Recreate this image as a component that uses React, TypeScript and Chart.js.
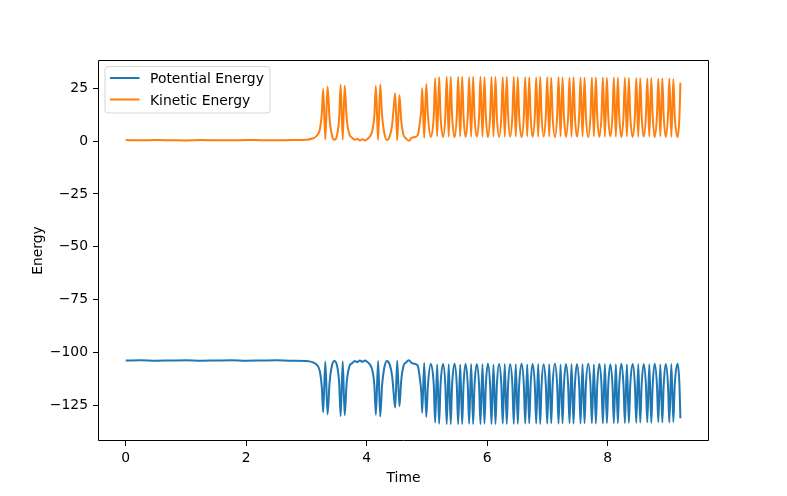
import { useEffect, useRef } from "react";
import { Chart, registerables } from "chart.js";

Chart.register(...registerables);

const FONT = "'DejaVu Sans', sans-serif";

const seriesLabels = ["Potential Energy", "Kinetic Energy"];
const seriesColors = ["#1f77b4", "#ff7f0e"];
const axisTitles = ["Time", "Energy"];

// Time samples
const timeValues = [
  0, 0.25, 0.5, 0.75, 1.0, 1.25, 1.5, 1.75, 2.0, 2.25, 2.5, 2.75,
  2.997, 3.096, 3.171, 3.221, 3.254, 3.276, 3.312, 3.349, 3.382, 3.42,
  3.462, 3.508, 3.542, 3.566, 3.601, 3.633, 3.666, 3.711, 3.761, 3.802,
  3.844, 3.885, 3.927, 3.968, 4.01, 4.051, 4.093, 4.126, 4.151, 4.188,
  4.223, 4.254, 4.289, 4.334, 4.384, 4.422, 4.447, 4.472, 4.505, 4.542,
  4.571, 4.608, 4.653, 4.699, 4.749, 4.799, 4.846, 4.882, 4.904, 4.92,
  4.953, 4.987, 5.015, 5.062,
  5.112, 5.135, 5.168, 5.201, 5.224, 5.267,
  5.304, 5.327, 5.36, 5.393, 5.416, 5.457,
  5.494, 5.517, 5.55, 5.583, 5.606, 5.639,
  5.676, 5.699, 5.732, 5.765, 5.788, 5.827,
  5.864, 5.887, 5.92, 5.953, 5.976, 6.01,
  6.047, 6.07, 6.103, 6.136, 6.159, 6.197,
  6.234, 6.257, 6.29, 6.323, 6.346, 6.38,
  6.417, 6.44, 6.473, 6.506, 6.529, 6.57,
  6.607, 6.63, 6.663, 6.696, 6.719, 6.752,
  6.789, 6.812, 6.845, 6.878, 6.901, 6.935,
  6.972, 6.995, 7.028, 7.061, 7.084, 7.123,
  7.16, 7.183, 7.216, 7.249, 7.272, 7.305,
  7.342, 7.365, 7.398, 7.431, 7.454, 7.488,
  7.525, 7.548, 7.581, 7.614, 7.637, 7.676,
  7.713, 7.736, 7.769, 7.802, 7.825, 7.859,
  7.896, 7.919, 7.952, 7.985, 8.008, 8.041,
  8.078, 8.101, 8.134, 8.167, 8.19, 8.224,
  8.261, 8.284, 8.317, 8.35, 8.373, 8.413,
  8.45, 8.473, 8.506, 8.539, 8.562, 8.596,
  8.633, 8.656, 8.689, 8.722, 8.745, 8.779,
  8.816, 8.839, 8.872, 8.905, 8.928, 8.962,
  8.999, 9.022, 9.055, 9.088, 9.111, 9.16,
  9.19, 9.205,
];

const potentialValues = [
  -103.8, -103.7, -103.9, -103.8, -103.7, -103.9, -103.8, -103.7, -103.9, -103.8, -103.7, -103.9,
  -104.0, -104.6, -105.9, -108.9, -116.5, -128.3, -104.3, -129.3, -114.5, -106.5,
  -104.1, -106.5, -114.5, -130.1, -104.2, -129.7, -114.5, -106.7, -105.0, -104.1,
  -104.6, -103.8, -104.4, -103.8, -104.5, -105.7, -108.5, -115.5, -129.5, -104.0,
  -130.3, -115.5, -107.5, -104.0, -106.0, -111.5, -119.5, -126.1, -103.9, -125.5,
  -113.5, -106.5, -104.7, -103.7, -105.1, -105.4, -106.3, -112.5, -118.5, -128.5,
  -105.0, -130.5, -115.5, -105.5,
  -115.5, -133.2, -105.7, -133.7, -115.5, -105.5,
  -115.5, -133.9, -105.6, -133.9, -115.5, -105.4,
  -115.5, -133.8, -105.7, -133.9, -115.5, -105.5,
  -115.5, -133.7, -105.5, -133.9, -115.5, -105.6,
  -115.5, -133.9, -105.6, -133.7, -115.5, -105.4,
  -115.5, -133.8, -105.7, -133.8, -115.5, -105.5,
  -115.5, -133.7, -105.5, -133.8, -115.5, -105.6,
  -115.5, -133.8, -105.6, -133.7, -115.5, -105.4,
  -115.5, -133.7, -105.7, -133.6, -115.5, -105.5,
  -115.5, -133.6, -105.5, -133.8, -115.5, -105.7,
  -115.5, -133.7, -105.6, -133.5, -115.5, -105.4,
  -115.5, -133.7, -105.7, -133.6, -115.5, -105.5,
  -115.5, -133.5, -105.5, -133.7, -115.5, -105.6,
  -115.5, -133.6, -105.6, -133.5, -115.5, -105.4,
  -115.5, -133.5, -105.7, -133.6, -115.5, -105.5,
  -115.5, -133.6, -105.5, -133.4, -115.5, -105.7,
  -115.5, -133.5, -105.6, -133.4, -115.5, -105.4,
  -115.5, -133.4, -105.7, -133.3, -115.5, -105.5,
  -115.5, -133.3, -105.5, -133.2, -115.5, -105.6,
  -115.5, -133.1, -105.6, -133.3, -115.5, -105.4,
  -115.5, -133.0, -105.7, -133.1, -115.5, -105.5,
  -115.5, -133.1, -105.5, -132.9, -115.5, -105.4,
  -115.5, -131.1,
];

const kineticValues = [
  0.45, 0.35, 0.5, 0.4, 0.3, 0.45, 0.4, 0.35, 0.5, 0.4, 0.35, 0.45,
  0.6, 1.2, 2.5, 5.5, 13, 24.8, 0.8, 25.8, 11, 3,
  0.6, 3, 11, 26.6, 0.7, 26.2, 11, 3.2, 1.5, 0.6,
  1.1, 0.3, 0.9, 0.3, 1.0, 2.2, 5.0, 12, 26, 0.5,
  26.8, 12, 4, 0.5, 2.5, 8, 16, 22.6, 0.4, 21.8,
  10, 3, 1.2, 0.2, 1.6, 1.9, 2.8, 9, 15, 25,
  1.5, 27, 12, 2.0,
  12, 29.7, 2.2, 30.2, 12, 2.0,
  12, 30.4, 2.1, 30.4, 12, 1.9,
  12, 30.3, 2.2, 30.4, 12, 2.0,
  12, 30.2, 2.0, 30.4, 12, 2.1,
  12, 30.4, 2.1, 30.2, 12, 1.9,
  12, 30.3, 2.2, 30.3, 12, 2.0,
  12, 30.2, 2.0, 30.3, 12, 2.1,
  12, 30.3, 2.1, 30.2, 12, 1.9,
  12, 30.2, 2.2, 30.1, 12, 2.0,
  12, 30.1, 2.0, 30.3, 12, 2.2,
  12, 30.2, 2.1, 30.0, 12, 1.9,
  12, 30.2, 2.2, 30.1, 12, 2.0,
  12, 30.0, 2.0, 30.2, 12, 2.1,
  12, 30.1, 2.1, 30.0, 12, 1.9,
  12, 30.0, 2.2, 30.1, 12, 2.0,
  12, 30.1, 2.0, 29.9, 12, 2.2,
  12, 30.0, 2.1, 29.9, 12, 1.9,
  12, 29.9, 2.2, 29.8, 12, 2.0,
  12, 29.8, 2.0, 29.7, 12, 2.1,
  12, 29.6, 2.1, 29.8, 12, 1.9,
  12, 29.5, 2.2, 29.6, 12, 2.0,
  12, 29.6, 2.0, 29.4, 12, 1.9,
  12, 27.6,
];

const fmtMinus = (v: number) => (v < 0 ? "\u2212" + Math.abs(v) : String(v));

const framePlugin = {
  id: "mplFrame",
  afterDraw(chart: any) {
    const { ctx, chartArea: a } = chart;
    ctx.save();
    // axes frame (all four spines)
    const L = Math.round(a.left) + 0.5;
    const R = Math.round(a.right) - 0.5;
    const T = Math.round(a.top) + 0.5;
    const B = Math.round(a.bottom) - 0.5;
    ctx.strokeStyle = "#000";
    ctx.lineWidth = 1;
    ctx.beginPath();
    ctx.moveTo(L, T);
    ctx.lineTo(R, T);
    ctx.lineTo(R, B);
    ctx.lineTo(L, B);
    ctx.closePath();
    ctx.stroke();

    // legend (upper left, matplotlib style)
    const x0 = a.left + 7;
    const y0 = a.top + 6.5;
    const w = 165;
    const h = 46.5;
    ctx.beginPath();
    if ((ctx as any).roundRect) (ctx as any).roundRect(x0, y0, w, h, 3);
    else ctx.rect(x0, y0, w, h);
    ctx.fillStyle = "rgba(255,255,255,0.8)";
    ctx.fill();
    ctx.strokeStyle = "rgba(204,204,204,0.8)";
    ctx.lineWidth = 1;
    ctx.stroke();

    ctx.font = `13.9px ${FONT}`;
    ctx.textBaseline = "alphabetic";
    ctx.textAlign = "left";
    chart.data.datasets.forEach((ds: any, i: number) => {
      const yy = a.top + 18 + i * 21.5;
      ctx.strokeStyle = ds.borderColor;
      ctx.lineWidth = 2;
      ctx.beginPath();
      ctx.moveTo(a.left + 12, yy);
      ctx.lineTo(a.left + 41.5, yy);
      ctx.stroke();
      ctx.fillStyle = "#000";
      ctx.fillText(ds.label, a.left + 52, yy + 5);
    });
    ctx.restore();
  },
};

export default function App() {
  const ref = useRef<HTMLCanvasElement | null>(null);

  useEffect(() => {
    if (!ref.current) return;
    const mk = (vals: number[]) => timeValues.map((t, i) => ({ x: t, y: vals[i] }));
    const tickFont = { family: FONT, size: 13.9 };
    const chart = new Chart(ref.current, {
      type: "line",
      data: {
        datasets: [
          {
            label: seriesLabels[0],
            data: mk(potentialValues),
            borderColor: seriesColors[0],
            backgroundColor: seriesColors[0],
            borderWidth: 2,
            pointRadius: 0,
            cubicInterpolationMode: "monotone",
          },
          {
            label: seriesLabels[1],
            data: mk(kineticValues),
            borderColor: seriesColors[1],
            backgroundColor: seriesColors[1],
            borderWidth: 2,
            pointRadius: 0,
            cubicInterpolationMode: "monotone",
          },
        ],
      },
      options: {
        animation: false,
        responsive: false,
        maintainAspectRatio: false,
        events: [],
        layout: { padding: { left: 0, right: 78, top: 60, bottom: 0 } },
        plugins: { legend: { display: false }, tooltip: { enabled: false } },
        scales: {
          x: {
            type: "linear",
            min: -0.461,
            max: 9.68,
            afterFit: (s: any) => {
              s.height = 55;
            },
            ticks: {
              stepSize: 2,
              includeBounds: false,
              color: "#000",
              font: tickFont,
              padding: 4,
              maxRotation: 0,
              autoSkip: false,
            },
            grid: { display: true, drawOnChartArea: false, drawTicks: true, tickLength: 5, color: "#000", lineWidth: 1 },
            border: { display: false },
            title: { display: true, text: axisTitles[0], color: "#000", font: tickFont, padding: { top: 0, bottom: 9 } },
          },
          y: {
            type: "linear",
            min: -141.9,
            max: 38.35,
            afterFit: (s: any) => {
              s.width = 98;
            },
            ticks: {
              stepSize: 25,
              includeBounds: false,
              color: "#000",
              font: tickFont,
              padding: 5,
              autoSkip: false,
              callback: (v: any) => fmtMinus(Number(v)),
            },
            grid: { display: true, drawOnChartArea: false, drawTicks: true, tickLength: 5, color: "#000", lineWidth: 1 },
            border: { display: false },
            title: { display: true, text: axisTitles[1], color: "#000", font: tickFont, padding: { top: 30, bottom: 0 } },
          },
        },
      },
      plugins: [framePlugin],
    } as any);
    return () => chart.destroy();
  }, []);

  return (
    <div style={{ position: "absolute", left: 0, top: 0, width: 787, height: 496, background: "#fff" }}>
      <canvas ref={ref} width={787} height={496} style={{ display: "block", width: 787, height: 496 }} />
    </div>
  );
}
